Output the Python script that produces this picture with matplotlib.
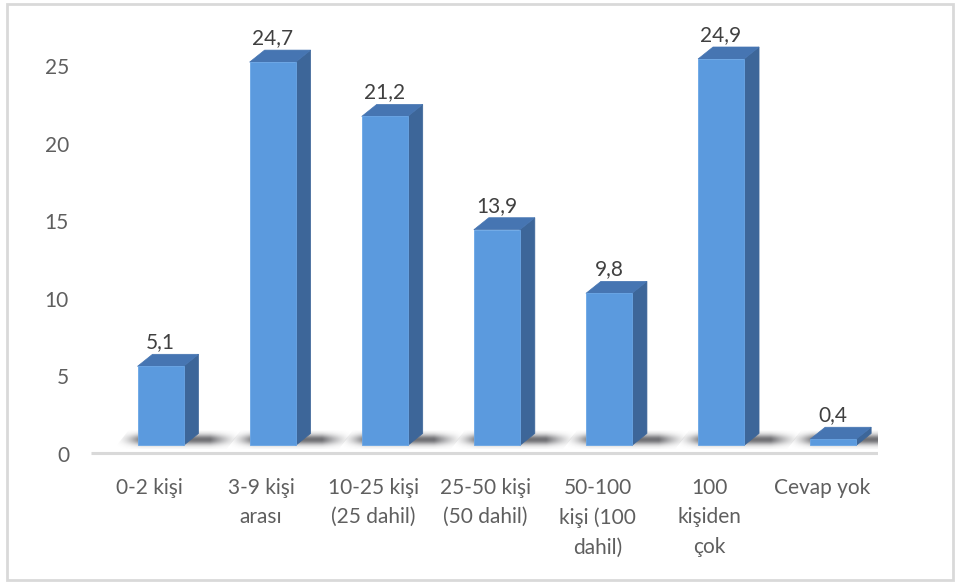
import numpy as np
import matplotlib
matplotlib.use("Agg")
import matplotlib.pyplot as plt
from matplotlib.patches import Polygon, Rectangle

plt.rcParams['font.family'] = ['Lato', 'DejaVu Sans']

# Data
categories = ["0-2 kişi", "3-9 kişi\narası", "10-25 kişi\n(25 dahil)",
              "25-50 kişi\n(50 dahil)", "50-100\nkişi (100\ndahil)",
              "100\nkişiden\nçok", "Cevap yok"]
values = [5.1, 24.7, 21.2, 13.9, 9.8, 24.9, 0.4]
value_labels = ["5,1", "24,7", "21,2", "13,9", "9,8", "24,9", "0,4"]
yticks = [0, 5, 10, 15, 20, 25]

W, H, DPI = 956, 584, 100
fig = plt.figure(figsize=(W / DPI, H / DPI), dpi=DPI)
fig.patch.set_facecolor("white")

# outer frame
fig.patches.append(Rectangle((7 / W, 4 / H), (953 - 7) / W, (580 - 4) / H,
                             transform=fig.transFigure, fill=False,
                             edgecolor="#d9d9d9", linewidth=2))

# plot area: y=0 at 456 px from top, 15.52 px per unit
ppu = 15.52
ylo, yhi = -1.5, 27.0
bottom_px = (H - 456) + ylo * ppu
ax = fig.add_axes([91 / W, bottom_px / H, 787 / W, (yhi - ylo) * ppu / H])
ax.set_xlim(-0.62, 6.40)
ax.set_ylim(ylo, yhi)
ax.axis("off")

pxx = 787 / 7.02          # px per x unit
bw = 46 / pxx             # front face width
ddx = 15 / pxx            # depth offset x
ddy = 12 / ppu            # depth offset y
floor = 0.68              # front edge of the floor

front_c = "#5b9ade"
top_c = "#4675b2"
side_c = "#3d6699"
txt_c = "#5f5f5f"

# baseline
ax.plot([-0.62, 6.40], [0.2, 0.2], color="#d9d9d9", lw=2.2, solid_capstyle="butt")

# y tick labels
for t in yticks:
    ax.text(-0.62 - 22 / pxx, t, str(t), ha="right", va="center",
            fontsize=15, color=txt_c)

for i, v in enumerate(values):
    xl = i - bw / 2
    xr = i + bw / 2
    yb = floor
    yt = floor + v

    # soft floor shadow
    sl = xl - 24 / pxx
    sr = xr + ddx + 28 / pxx
    ny, nx = 60, 300
    xs = np.linspace(sl, sr, nx)
    a = np.zeros(nx)
    left = xs < xl
    a[left] = ((xs[left] - sl) / (xl - sl)) ** 1.8
    mid = (xs >= xl) & (xs <= xr + ddx)
    a[mid] = 1.0
    right = xs > xr + ddx
    a[right] = (1 - (xs[right] - (xr + ddx)) / (sr - (xr + ddx))) ** 1.5
    ys = np.linspace(-1, 1, ny)
    va_ = np.exp(-(ys / 0.55) ** 2)
    alpha = np.outer(va_, a) * 0.72
    img = np.zeros((ny, nx, 4))
    img[..., 0] = 0.22
    img[..., 1] = 0.22
    img[..., 2] = 0.24
    img[..., 3] = alpha
    y0s = yb - 0.25
    y1s = yb + ddy + 0.2
    im = ax.imshow(img, extent=(sl, sr + ddx, y0s, y1s), origin="lower",
                   aspect="auto", interpolation="bilinear", zorder=1)
    clip = Polygon([(sl, y0s), (sr, y0s), (sr + ddx, y1s), (sl + ddx, y1s)],
                   closed=True, transform=ax.transData, fill=False, lw=0)
    ax.add_patch(clip)
    im.set_clip_path(clip)

    # side face
    ax.add_patch(Polygon([(xr, yb), (xr + ddx, yb + ddy), (xr + ddx, yt + ddy), (xr, yt)],
                         closed=True, facecolor=side_c, edgecolor=side_c, lw=0.5, zorder=3))
    # top face
    ax.add_patch(Polygon([(xl, yt), (xr, yt), (xr + ddx, yt + ddy), (xl + ddx, yt + ddy)],
                         closed=True, facecolor=top_c, edgecolor=top_c, lw=0.5, zorder=3))
    # front face
    ax.add_patch(Polygon([(xl, yb), (xr, yb), (xr, yt), (xl, yt)],
                         closed=True, facecolor=front_c, edgecolor="#6aa6e6", lw=0.6, zorder=4))

    # value label
    ax.text(i, yt + 24 / ppu, value_labels[i], ha="center", va="center",
            fontsize=15, color="#404040", zorder=5)

    # category label
    ax.text(i - 11.5 / pxx, -22 / ppu, categories[i], ha="center", va="top",
            fontsize=15, color=txt_c, linespacing=1.58)

fig.savefig("out.png", dpi=DPI, facecolor="white")
